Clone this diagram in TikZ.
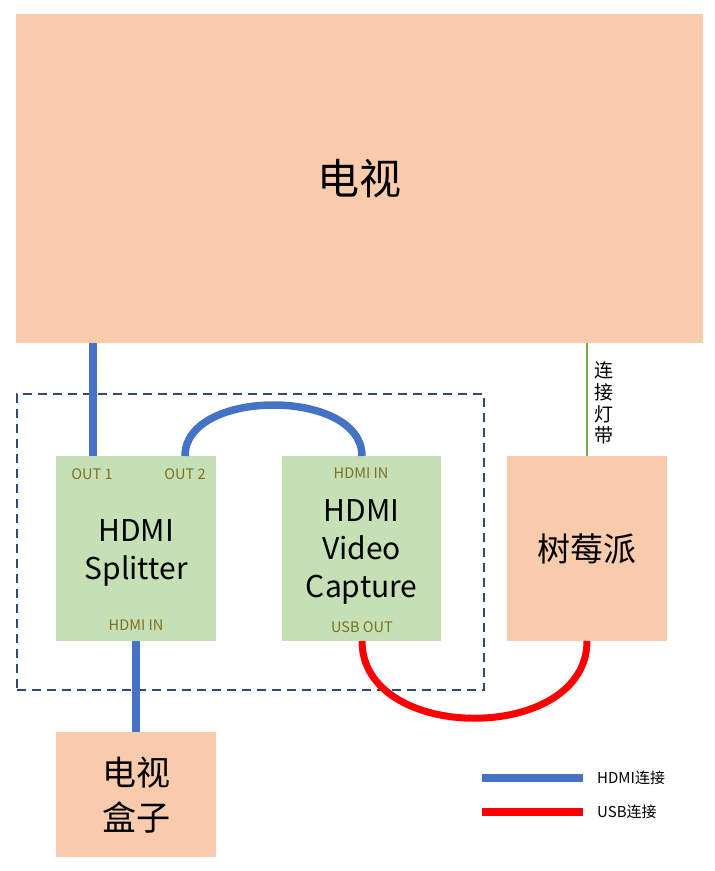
\documentclass[tikz,border=0pt]{standalone}
\usepackage{fontspec}
\setmainfont{Noto Sans CJK SC}
\definecolor{peach}{HTML}{F8CBAD}
\definecolor{boxgreen}{HTML}{C5E0B4}
\definecolor{hdmiblue}{HTML}{4472C4}
\definecolor{usbred}{HTML}{FF0000}
\definecolor{ledgreen}{HTML}{70AD47}
\definecolor{portolive}{HTML}{7F6F22}
\definecolor{dashblue}{HTML}{2F4A73}
\tikzset{
  peachbox/.style={fill=peach, draw=none, inner sep=0, anchor=north west, align=center, text=black},
  greenbox/.style={fill=boxgreen, draw=none, inner sep=0, anchor=north west},
  boxtext/.style={inner sep=0, align=center, text=black, font=\fontsize{30}{38}\selectfont},
  portlabel/.style={text=portolive, inner sep=0, font=\fontsize{14.5}{16}\selectfont},
  hdmiwire/.style={draw=hdmiblue, line width=7.5pt},
  usbwire/.style={draw=usbred, line width=7pt},
  ledwire/.style={draw=ledgreen, line width=1.8pt},
  dashbox/.style={draw=dashblue, line width=1.6pt, dash pattern=on 9pt off 6pt, inner sep=0, anchor=north west},
  legendtext/.style={anchor=west, inner sep=0, font=\fontsize{15}{17}\selectfont}
}
\begin{document}
\begin{tikzpicture}[x=1pt, y=-1pt]
\useasboundingbox (0,0) rectangle (715,871);
% group outline
\node[dashbox, minimum width=467pt, minimum height=296pt] (group) at (16,393) {};
% boxes
\node[peachbox, minimum width=687pt, minimum height=329pt, font=\fontsize{42}{48}\selectfont] (tv) at (16,14) {电视};
\node[greenbox, minimum width=160pt, minimum height=185pt] (split) at (56,456) {};
\node[boxtext] (splittext) at ([yshift=-4pt]split.center) {HDMI\\Splitter};
\node[greenbox, minimum width=159pt, minimum height=185pt] (cap) at (282,456) {};
\node[boxtext] (captext) at ([yshift=-3pt]cap.center) {HDMI\\Video\\Capture};
\node[peachbox, minimum width=160pt, minimum height=185pt, font=\fontsize{33}{40}\selectfont] (pi) at (507,456) {树莓派};
\node[peachbox, minimum width=160pt, minimum height=125pt, font=\fontsize{34}{45}\selectfont] (box) at (56,732) {电视\\盒子};
% port labels
\node[portlabel] (lout1) at (92,474) {OUT 1};
\node[portlabel] (lout2) at (185,474) {OUT 2};
\node[portlabel] (lsin) at (136,625) {HDMI IN};
\node[portlabel] (lcin) at (361,473) {HDMI IN};
\node[portlabel] (lcout) at (362,627) {USB OUT};
% port coordinates
\coordinate (out1) at (93,456);
\coordinate (out2) at (185,456);
\coordinate (sin) at (136,641);
\coordinate (cin) at (362,456);
\coordinate (cout) at (362,641);
\coordinate (piled) at (587,456);
\coordinate (piusb) at (587,641);
% connections
\draw[hdmiwire] (tv.south -| out1) -- (out1);
\draw[hdmiwire] (out2) .. controls +(0,-68) and +(0,-68) .. (cin);
\draw[hdmiwire] (sin) -- (box.north -| sin);
\draw[usbwire] (cout) .. controls +(0,103) and +(0,103) .. (piusb);
\draw[ledwire] (tv.south -| piled) -- (piled);
\node[inner sep=0, align=center, font=\fontsize{19}{21.7}\selectfont] (ledlabel) at (604,403) {连\\接\\灯\\带};
% legend
\coordinate (lh1) at (482,778);
\coordinate (lh2) at (583,778);
\coordinate (lu1) at (482,812);
\coordinate (lu2) at (583,812);
\draw[draw=hdmiblue, line width=8pt] (lh1) -- (lh2);
\draw[draw=usbred, line width=8pt] (lu1) -- (lu2);
\node[legendtext] (lhtext) at (597,778) {HDMI连接};
\node[legendtext] (lutext) at (597,812) {USB连接};
\end{tikzpicture}
\end{document}
